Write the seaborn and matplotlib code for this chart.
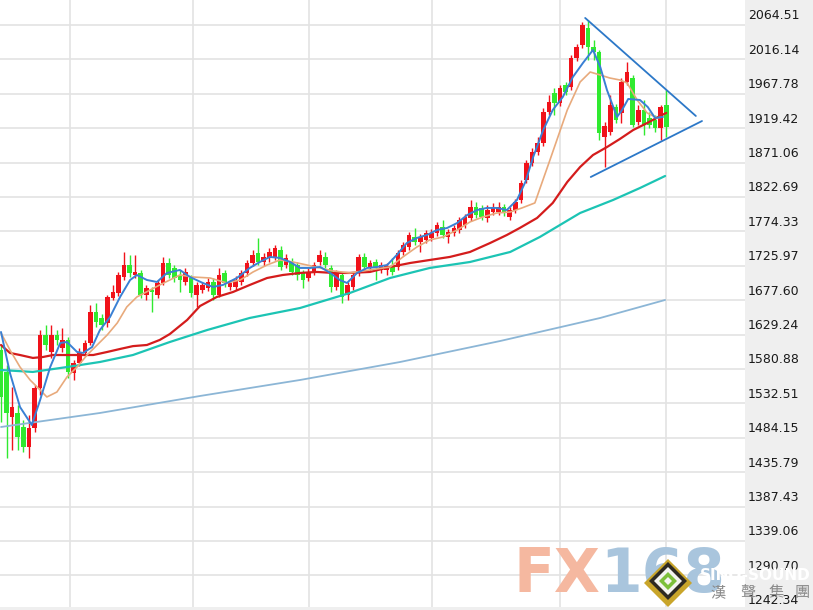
import numpy as np
import pandas as pd
import matplotlib.pyplot as plt
import matplotlib.transforms as mtransforms
from matplotlib.patches import Polygon
import seaborn as sns

# Daily candles (open / high / low / close)
opens = [1607.6, 1576.7, 1513.4, 1519.0, 1499.3, 1471.2, 1497.9, 1554.2, 1628.7, 1604.8, 1628.7, 1610.4, 1621.7,
         1575.3, 1589.3, 1603.4, 1617.4, 1661.0, 1652.6, 1645.6, 1680.7, 1687.7, 1710.2, 1727.1, 1713.0, 1715.9,
         1684.9, 1692.0, 1684.9, 1701.8,
         1729.9, 1722.9, 1713.0, 1703.2, 1708.8, 1684.9, 1692.0, 1694.8, 1703.2, 1684.9, 1715.9, 1696.2, 1696.2,
         1703.2, 1715.9, 1729.9, 1744.0, 1731.3, 1737.0, 1738.4, 1748.2, 1727.1, 1731.3, 1727.1, 1715.9, 1708.8,
         1717.3, 1731.3, 1738.4, 1722.9, 1696.2, 1713.0,
         1684.9, 1696.2, 1715.9, 1738.4, 1722.9, 1731.3, 1720.1, 1720.1, 1724.3, 1724.3, 1745.4, 1752.4, 1766.5,
         1759.4, 1762.3, 1765.1, 1772.1, 1780.5, 1766.5, 1772.1, 1776.3, 1783.3, 1793.2, 1808.7, 1807.3, 1793.2,
         1801.6, 1801.6, 1808.7, 1794.6, 1804.4, 1818.5,
         1846.6, 1870.5, 1886.0, 1898.6, 1942.2, 1968.9, 1954.8, 1980.1, 1977.3, 2018.1, 2036.4, 2060.3, 2033.6,
         2026.5, 1907.1, 1914.1, 1949.2, 1940.8, 1984.4, 1990.0, 1928.1, 1945.0, 1933.8, 1931.0, 1919.7, 1952.0]
highs = [1614.6, 1586.5, 1555.6, 1530.3, 1509.2, 1516.2, 1558.4, 1635.7, 1642.7, 1642.7, 1635.7, 1638.5, 1625.9,
         1593.5, 1610.4, 1621.7, 1670.9, 1673.7, 1658.2, 1684.9, 1699.0, 1717.3, 1745.4, 1741.2, 1741.2, 1720.1,
         1699.0, 1696.2, 1706.0, 1738.4,
         1737.0, 1727.1, 1720.1, 1722.9, 1713.0, 1703.2, 1703.2, 1708.8, 1708.8, 1722.9, 1720.1, 1706.0, 1711.6,
         1720.1, 1734.1, 1748.2, 1765.1, 1744.0, 1751.0, 1755.2, 1753.8, 1742.6, 1737.0, 1731.3, 1720.1, 1722.9,
         1731.3, 1748.2, 1745.4, 1727.1, 1720.1, 1717.3,
         1703.2, 1717.3, 1742.6, 1744.0, 1734.1, 1735.5, 1731.3, 1729.9, 1737.0, 1748.2, 1759.4, 1773.5, 1779.1,
         1770.7, 1776.3, 1777.7, 1787.6, 1790.4, 1777.7, 1783.3, 1794.6, 1798.8, 1818.5, 1815.7, 1811.5, 1811.5,
         1814.3, 1815.7, 1812.9, 1808.7, 1819.9, 1846.6,
         1874.7, 1891.6, 1907.1, 1947.8, 1966.1, 1975.9, 1980.1, 1984.4, 2022.3, 2037.8, 2068.7, 2071.5, 2043.4,
         2029.4, 1928.1, 1966.1, 1953.4, 1990.0, 2012.5, 1994.2, 1952.0, 1959.1, 1942.2, 1938.0, 1952.0, 1973.1]
lows = [1506.3, 1455.8, 1467.0, 1467.0, 1464.2, 1455.8, 1492.3, 1544.3, 1607.6, 1596.4, 1614.6, 1604.8, 1568.2,
        1565.4, 1585.1, 1599.2, 1614.6, 1639.9, 1635.7, 1639.9, 1677.9, 1683.5, 1706.0, 1710.2, 1708.8, 1680.7,
        1677.9, 1661.0, 1680.7, 1699.0,
        1708.8, 1703.2, 1689.1, 1699.0, 1682.1, 1668.1, 1687.7, 1690.6, 1677.9, 1682.1, 1696.2, 1692.0, 1692.0,
        1699.0, 1711.6, 1725.7, 1727.1, 1725.7, 1731.3, 1734.1, 1720.1, 1722.9, 1713.0, 1706.0, 1694.8, 1704.6,
        1713.0, 1727.1, 1722.9, 1689.1, 1692.0, 1673.7,
        1677.9, 1692.0, 1711.6, 1720.1, 1718.7, 1706.0, 1715.9, 1713.0, 1713.0, 1720.1, 1741.2, 1748.2, 1755.2,
        1745.4, 1758.0, 1760.9, 1767.9, 1765.1, 1758.0, 1767.9, 1772.1, 1779.1, 1789.0, 1793.2, 1790.4, 1787.6,
        1797.4, 1797.4, 1796.0, 1790.4, 1800.2, 1814.3,
        1842.4, 1866.3, 1881.7, 1894.4, 1938.0, 1938.0, 1950.6, 1966.1, 1973.1, 2013.9, 2032.2, 2015.3, 2015.3,
        1902.8, 1864.9, 1909.9, 1926.7, 1926.7, 1980.1, 1921.1, 1923.9, 1909.9, 1919.7, 1914.1, 1902.8, 1907.1]
closes = [1541.5, 1519.0, 1527.5, 1485.3, 1471.2, 1497.9, 1554.2, 1628.7, 1614.6, 1628.7, 1621.7, 1621.7, 1576.7,
          1589.3, 1604.8, 1617.4, 1661.0, 1647.0, 1642.7, 1682.1, 1689.1, 1713.0, 1727.1, 1715.9, 1717.3, 1684.9,
          1694.8, 1689.1, 1701.8, 1729.9,
          1713.0, 1708.8, 1706.0, 1717.3, 1687.7, 1699.0, 1699.0, 1703.2, 1684.9, 1713.0, 1701.8, 1701.8, 1706.0,
          1715.9, 1729.9, 1741.2, 1731.3, 1738.4, 1745.4, 1751.0, 1724.3, 1737.0, 1717.3, 1713.0, 1706.0, 1717.3,
          1727.1, 1741.2, 1727.1, 1696.2, 1715.9, 1682.1,
          1699.0, 1713.0, 1738.4, 1724.3, 1729.9, 1724.3, 1727.1, 1725.7, 1717.3, 1744.0, 1755.2, 1769.3, 1759.4,
          1766.5, 1772.1, 1772.1, 1783.3, 1769.3, 1773.5, 1779.1, 1790.4, 1794.6, 1808.7, 1797.4, 1794.6, 1804.4,
          1808.7, 1808.7, 1800.2, 1804.4, 1815.7, 1842.4,
          1870.5, 1886.0, 1898.6, 1942.2, 1956.2, 1954.8, 1975.9, 1970.3, 2018.1, 2033.6, 2064.5, 2033.6, 2026.5,
          1912.7, 1922.5, 1952.0, 1931.0, 1984.4, 1998.4, 1923.9, 1945.0, 1923.9, 1923.9, 1919.7, 1949.2, 1921.1]

# Moving average lines, read at candle positions
ma5_idx = [0, 1.6, 3.4, 5.5, 7.0, 8.8, 10.6, 11.8, 13.6, 14.7, 16.3, 17.7, 19.5, 21.3, 23.1, 24.3, 26.1, 27.9,
           29.7, 32.0, 33.8, 36.1, 37.9, 39.7, 42.2, 44.5, 46.3, 48.1, 49.9, 51.7, 53.5, 55.3, 57.1, 58.9, 60.6,
           61.9, 63.7, 65.5, 67.3, 69.1, 70.8, 72.6, 74.4, 76.2, 78.0, 79.8, 81.6, 83.4, 85.2, 86.9, 88.7, 90.5,
           92.3, 93.8, 95.2, 97.0, 98.7, 100.5, 102.3, 104.1, 105.9, 107.2, 108.4, 110.2, 111.1, 112.2, 114.3,
           115.7, 117.0, 118.4]
ma5 = [1632.9, 1575.2, 1527.4, 1502.1, 1537.3, 1583.6, 1617.4, 1618.8, 1604.8, 1603.4, 1611.8, 1635.7, 1653.9,
       1682.1, 1706.0, 1713.0, 1706.0, 1703.2, 1715.9, 1720.1, 1710.2, 1701.8, 1696.2, 1699.0, 1708.8, 1722.9,
       1731.3, 1738.4, 1737.0, 1731.3, 1722.9, 1722.9, 1724.3, 1715.9, 1706.0, 1701.8, 1715.9, 1722.9, 1724.3,
       1727.1, 1741.2, 1758.0, 1765.1, 1769.3, 1776.3, 1779.1, 1786.1, 1797.4, 1804.4, 1807.3, 1807.3, 1804.4,
       1818.5, 1843.8, 1878.9, 1916.9, 1945.0, 1963.3, 1991.4, 2011.1, 2029.4, 2005.5, 1973.1, 1935.2, 1945.0,
       1960.5, 1959.1, 1949.2, 1933.8, 1935.2]

ma10_idx = [0, 1.6, 3.4, 5.2, 7.0, 8.2, 10.0, 11.8, 13.6, 15.4, 17.2, 19.0, 20.8, 22.5, 24.3, 26.7, 28.4, 30.2,
            32.0, 34.3, 37.4, 40.4, 42.8, 45.1, 47.6, 49.9, 52.2, 54.7, 57.1, 59.4, 62.4, 66.0, 69.6, 71.9, 74.4,
            76.7, 79.1, 81.6, 83.9, 86.2, 88.7, 91.1, 93.2, 95.5, 98.2, 101.3, 103.6, 105.4, 107.2, 108.9, 110.7,
            112.0, 113.8, 115.6, 117.4, 118.4]
ma10 = [1631.5, 1607.6, 1583.6, 1565.4, 1551.3, 1541.5, 1548.5, 1569.6, 1583.6, 1600.5, 1614.6, 1628.7, 1645.6,
        1668.1, 1682.1, 1692.0, 1699.0, 1706.0, 1713.0, 1710.2, 1708.8, 1701.8, 1706.0, 1717.3, 1727.1, 1734.1,
        1731.3, 1727.1, 1722.9, 1718.7, 1715.9, 1720.1, 1724.3, 1738.4, 1752.4, 1762.3, 1766.5, 1776.3, 1787.6,
        1794.6, 1800.2, 1801.6, 1807.3, 1814.3, 1874.7, 1945.0, 1984.4, 1998.4, 1994.2, 1990.0, 1987.2, 1983.0,
        1959.1, 1940.8, 1933.8, 1935.2]

ma20_idx = [0, 1.6, 3.4, 5.7, 7.5, 9.3, 11.8, 14.1, 16.5, 19.0, 21.3, 23.6, 26.1, 28.4, 30.2, 33.3, 35.6, 38.6,
            41.5, 44.5, 47.6, 50.4, 53.5, 56.5, 59.4, 62.4, 66.0, 69.6, 73.2, 76.7, 80.3, 83.9, 87.5, 90.5, 92.8,
            95.9, 98.7, 101.3, 103.6, 105.9, 108.4, 110.7, 113.1, 115.6, 117.9, 119.0]
ma20 = [1614.6, 1603.4, 1600.5, 1596.4, 1597.7, 1600.5, 1600.5, 1600.5, 1600.5, 1604.8, 1609.0, 1613.0, 1614.6,
        1621.7, 1630.0, 1649.8, 1669.4, 1682.1, 1689.1, 1699.0, 1708.8, 1713.0, 1715.9, 1717.3, 1715.9, 1715.9,
        1717.3, 1724.3, 1729.9, 1734.1, 1738.4, 1745.4, 1758.0, 1769.3, 1779.1, 1793.2, 1814.3, 1843.8, 1864.9,
        1881.7, 1892.9, 1904.2, 1916.9, 1926.7, 1936.6, 1940.8]

ma60_idx = [0, 5.7, 11.8, 17.7, 23.6, 30.2, 36.9, 44.5, 53.5, 62.4, 69.6, 76.7, 83.9, 91.1, 96.4, 103.6, 109.5,
            114.3, 118.8]
ma60 = [1579.4, 1576.7, 1583.6, 1590.7, 1600.5, 1618.8, 1635.7, 1652.6, 1666.6, 1687.7, 1708.8, 1722.9, 1731.3,
        1745.4, 1766.5, 1800.2, 1818.5, 1835.3, 1852.2]

ma200_idx = [0, 17.7, 35.6, 53.5, 71.4, 89.3, 107.2, 118.8]
ma200 = [1499.3, 1519.0, 1542.9, 1565.4, 1590.7, 1620.2, 1652.6, 1677.9]

# Triangle trend lines drawn on the chart
tri_upper_idx = [104.5, 124.3]
tri_upper = [2074.4, 1936.6]
tri_lower_idx = [105.5, 125.4]
tri_lower = [1850.8, 1929.5]

# Right-hand price scale
price_labels = ['2064.51', '2016.14', '1967.78', '1919.42', '1871.06', '1822.69', '1774.33', '1725.97',
                '1677.60', '1629.24', '1580.88', '1532.51', '1484.15', '1435.79', '1387.43', '1339.06',
                '1290.70', '1242.34']
month_starts = [12.3, 34.3, 55.1, 77.1, 100, 119]

sns.set_theme(style="white")
plt.rcParams['font.family'] = ['DejaVu Sans', 'Noto Sans CJK TC']

fig = plt.figure(figsize=(8.13, 6.10), dpi=100, facecolor='#efefef')
ax = fig.add_axes([0, 3 / 610, 745 / 813, 607 / 610])
ax.set_facecolor('white')

# grid
for lab in price_labels:
    ax.axhline(float(lab), color='#e3e3e3', lw=1.2, zorder=0)
for m in month_starts:
    ax.axvline(m, color='#e3e3e3', lw=1.2, zorder=0)

# candles
o = np.array(opens)
h = np.array(highs)
l = np.array(lows)
c = np.array(closes)
idx = np.arange(len(c))
cols = np.where(c >= o, '#f0121a', '#30ea30')
ax.vlines(idx, l, h, colors=cols, lw=1.0, zorder=2)
ax.bar(idx, np.maximum(np.abs(c - o), 0.9), bottom=np.minimum(o, c), width=0.82,
       color=cols, linewidth=0, zorder=3)

# moving averages
ma_df = pd.concat([
    pd.DataFrame({'idx': ma200_idx, 'price': ma200, 'ma': 'MA200'}),
    pd.DataFrame({'idx': ma60_idx, 'price': ma60, 'ma': 'MA60'}),
    pd.DataFrame({'idx': ma20_idx, 'price': ma20, 'ma': 'MA20'}),
    pd.DataFrame({'idx': ma10_idx, 'price': ma10, 'ma': 'MA10'}),
    pd.DataFrame({'idx': ma5_idx, 'price': ma5, 'ma': 'MA5'}),
])
styles = {'MA200': ('#8cb6d6', 1.3), 'MA60': ('#1cc4b4', 1.6), 'MA20': ('#d41c1c', 1.6),
          'MA10': ('#e8aa7c', 1.2), 'MA5': ('#3a80d4', 1.4)}
for name, grp in ma_df.groupby('ma', sort=False):
    col, lw = styles[name]
    sns.lineplot(data=grp, x='idx', y='price', color=col, lw=lw, ax=ax,
                 sort=False, estimator=None, legend=False, zorder=4)

# triangle
sns.lineplot(x=tri_upper_idx, y=tri_upper, color='#2c78c8', lw=1.3, ax=ax, zorder=5)
sns.lineplot(x=tri_lower_idx, y=tri_lower, color='#2c78c8', lw=1.3, ax=ax, zorder=5)

ax.set_xlim(-0.18, -0.18 + 745 / 5.59)
ax.set_ylim(1246.2, 2099.66)
ax.set_xticks([])
ax.set_yticks([])
ax.set_xlabel('')
ax.set_ylabel('')
for sp in ax.spines.values():
    sp.set_visible(False)

# price labels in the grey panel
trans = mtransforms.blended_transform_factory(fig.transFigure, ax.transData)
for lab in price_labels:
    ax.annotate(lab, xy=(748 / 813, float(lab)), xycoords=trans, xytext=(0, 4),
                textcoords='offset points', ha='left', va='baseline', fontsize=9,
                color='#1a1a1a', annotation_clip=False)

# watermark
fig.text(513 / 813, 1 - 592 / 610, 'FX', fontsize=43, fontweight='bold', color='#f5b8a0',
         va='baseline', ha='left', zorder=10)
fig.text(600 / 813, 1 - 592 / 610, '168', fontsize=43, fontweight='bold', color='#a9c5dd',
         va='baseline', ha='left', zorder=10)


def diamond(cx, cy, r, color):
    pts = [((cx) / 813, 1 - (cy - r) / 610), ((cx + r) / 813, 1 - cy / 610),
           ((cx) / 813, 1 - (cy + r) / 610), ((cx - r) / 813, 1 - cy / 610)]
    fig.patches.append(Polygon(pts, closed=True, transform=fig.transFigure, facecolor=color,
                               edgecolor='none', zorder=11))


diamond(668, 583, 24, '#c9a52a')
diamond(668, 581, 19, '#2e2a22')
diamond(668, 581, 14, '#f4f4f0')
diamond(668, 581, 9, '#7cbf3a')
diamond(668, 581, 4, '#f4f4f0')

fig.text(755 / 813, 1 - 575 / 610, 'SINO-SOUND', fontsize=11, fontweight='bold', color='white',
         ha='center', va='center', zorder=12)
for ch, xp in zip(['漢', '聲', '集', '團'], [718, 748, 776, 802]):
    fig.text(xp / 813, 1 - 593 / 610, ch, fontsize=11, color='#8a8a8a', ha='center', va='center',
             family=['Noto Sans CJK TC', 'DejaVu Sans'], zorder=12)

fig.savefig('out.png', dpi=100, facecolor=fig.get_facecolor())
